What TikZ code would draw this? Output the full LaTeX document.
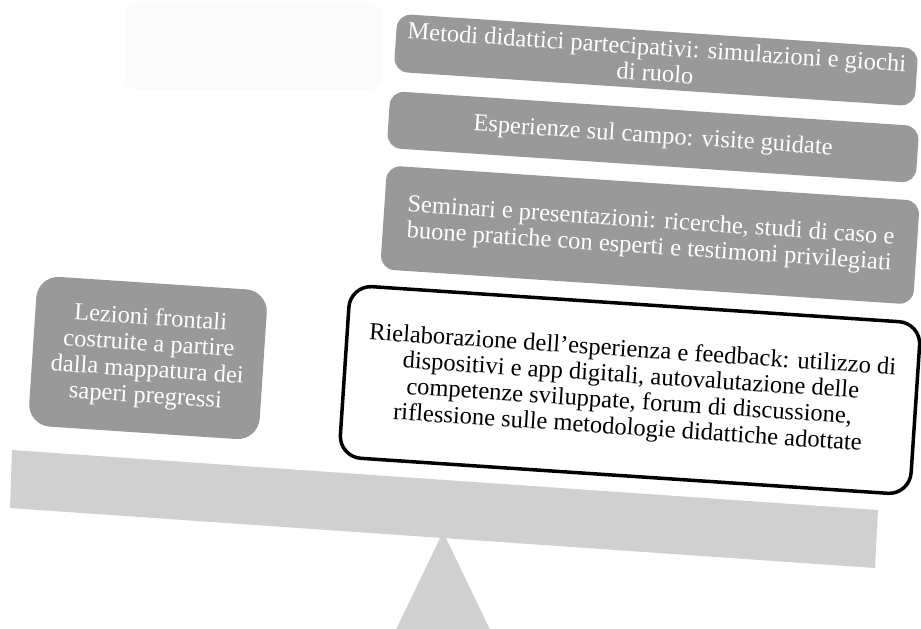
\documentclass[tikz,border=0pt]{standalone}
\usepackage{fontspec}
\setmainfont{Liberation Serif}
\definecolor{boxgray}{HTML}{999999}
\definecolor{beamgray}{HTML}{D0D0D0}
\definecolor{ghost}{HTML}{FBFBFB}
\begin{document}
\begin{tikzpicture}[x=1pt,y=-1pt,
  graybox/.style={draw=none, fill=boxgray, text=white, rounded corners=14pt, rotate=-3.8,
    align=center, inner sep=0pt, font=\fontsize{24.5}{26}\selectfont},
  whitebox/.style={draw=black, line width=3.5pt, fill=white, text=black, rounded corners=22pt, rotate=-3.8,
    align=center, inner sep=0pt, font=\fontsize{24.5}{26}\selectfont}]
\useasboundingbox (0,0) rectangle (921,629);
\begin{scope}
\clip (0,0) rectangle (921,629);
% faint ghost panel
\node[fill=ghost, rounded corners=12pt, minimum width=257pt, minimum height=87pt, inner sep=0pt] (ghost) at (253.5,46.5) {};
% fulcrum
\fill[beamgray] (443,532) -- (495,640) -- (391,640) -- cycle;
% beam
\fill[beamgray] (12,450) -- (878,510) -- (875,568) -- (10,508) -- cycle;
\end{scope}
% boxes
\node[graybox, minimum width=522pt, minimum height=58pt] (metodi) at (656,60)
  {Metodi didattici partecipativi: simulazioni e giochi\\di ruolo};
\node[graybox, minimum width=530pt, minimum height=57pt] (esperienze) at (653,137)
  {Esperienze sul campo: visite guidate};
\node[graybox, minimum width=534pt, minimum height=104pt] (seminari) at (650,235)
  {Seminari e presentazioni: ricerche, studi di caso e\\buone pratiche con esperti e testimoni privilegiati};
\node[whitebox, minimum width=572pt, minimum height=172pt] (riel) at (630,390)
  {Rielaborazione dell’esperienza e feedback: utilizzo di\\dispositivi e app digitali, autovalutazione delle\\competenze sviluppate, forum di discussione,\\riflessione sulle metodologie didattiche adottate};
\node[graybox, rounded corners=22pt, minimum width=231pt, minimum height=150pt] (lezioni) at (148,358)
  {Lezioni frontali\\costruite a partire\\dalla mappatura dei\\saperi pregressi};
\end{tikzpicture}
\end{document}
